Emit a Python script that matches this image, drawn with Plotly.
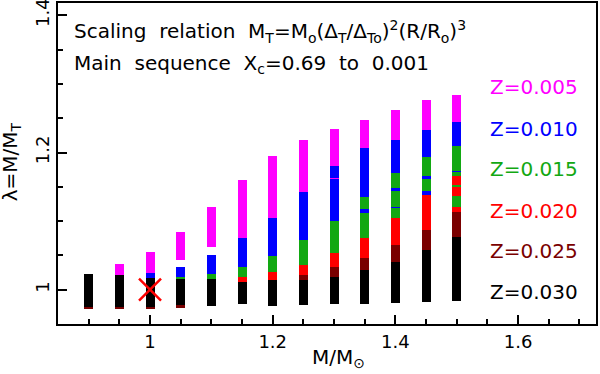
import plotly.graph_objects as go

# metallicities, colours and label positions
z_names = ['Z=0.005', 'Z=0.010', 'Z=0.015', 'Z=0.020', 'Z=0.025', 'Z=0.030']
z_colors = ['#ff00ff', '#0000ff', '#12a812', '#ff0000', '#7a0000', '#000000']
label_y = [1.295, 1.235, 1.176, 1.115, 1.056, 0.997]

# visible lambda ranges (mass, lambda_low, lambda_high)
z005 = [(0.95, 1.0215, 1.0375), (1.00, 1.0248, 1.0555), (1.05, 1.0434, 1.0838),
        (1.10, 1.0619, 1.1203), (1.15, 1.075, 1.1601), (1.20, 1.1042, 1.1956),
        (1.25, 1.143, 1.2185), (1.30, 1.1806, 1.2346), (1.30, 1.1612, 1.1628),
        (1.35, 1.2064, 1.2477), (1.40, 1.2185, 1.2623), (1.45, 1.2331, 1.2759),
        (1.50, 1.2444, 1.2842)]
z010 = [(1.00, 1.0166, 1.0248), (1.05, 1.018, 1.0336), (1.10, 1.0229, 1.0507),
        (1.15, 1.0336, 1.075), (1.20, 1.0492, 1.1042), (1.25, 1.0726, 1.143),
        (1.30, 1.1628, 1.1806), (1.30, 1.1007, 1.1612), (1.35, 1.1358, 1.2064),
        (1.35, 1.1115, 1.1178), (1.40, 1.17, 1.2185), (1.40, 1.144, 1.148),
        (1.40, 1.119, 1.121), (1.45, 1.1942, 1.2331), (1.45, 1.1616, 1.1664),
        (1.45, 1.138, 1.144), (1.50, 1.2088, 1.2444), (1.50, 1.1716, 1.1733)]
z015 = [(1.05, 1.0162, 1.018), (1.10, 1.0152, 1.0229), (1.15, 1.018, 1.0336),
        (1.20, 1.0254, 1.0492), (1.25, 1.036, 1.0726), (1.30, 1.0531, 1.1007),
        (1.35, 1.1178, 1.1358), (1.35, 1.0759, 1.1115), (1.40, 1.148, 1.17),
        (1.40, 1.121, 1.144), (1.40, 1.105, 1.119), (1.45, 1.1664, 1.1942),
        (1.45, 1.144, 1.1616), (1.50, 1.1733, 1.2088), (1.50, 1.1664, 1.1716),
        (1.50, 1.1504, 1.1528), (1.50, 1.1212, 1.1368)]
z020 = [(1.15, 1.0117, 1.018), (1.20, 1.0142, 1.0254), (1.25, 1.0215, 1.036),
        (1.30, 1.0327, 1.0531), (1.35, 1.0467, 1.0759), (1.40, 1.065, 1.105),
        (1.45, 1.0872, 1.138), (1.50, 1.1528, 1.1664), (1.50, 1.1368, 1.1504),
        (1.50, 1.1139, 1.1212)]
z025 = [(0.90, 0.9725, 0.975), (0.95, 0.972, 0.975), (1.00, 0.973, 0.975),
        (1.05, 0.9745, 0.977), (1.25, 1.0142, 1.0215), (1.30, 1.019, 1.0327),
        (1.35, 1.0288, 1.0467), (1.40, 1.041, 1.065), (1.45, 1.058, 1.0872),
        (1.50, 1.0774, 1.1139)]
z030 = [(0.90, 0.975, 1.0229), (0.95, 0.975, 1.0215), (1.00, 0.975, 1.0166),
        (1.05, 0.977, 1.0162), (1.10, 0.976, 1.0152), (1.15, 0.9787, 1.0117),
        (1.20, 0.976, 1.0142), (1.25, 0.977, 1.0142), (1.30, 0.9787, 1.019),
        (1.35, 0.979, 1.0288), (1.40, 0.980, 1.041), (1.45, 0.9816, 1.058),
        (1.50, 0.9835, 1.0774)]
z_ranges = [z005, z010, z015, z020, z025, z030]

sun_mass = [1.0]
sun_lambda = [1.0]

FONT = 'DejaVu Sans'
XR = [0.85, 1.727]
YR = [0.95, 1.418]
SP = ' \u00a0'  # the original font has wide word spaces

fig = go.Figure()
for name, col, segs in zip(z_names, z_colors, z_ranges):
    fig.add_trace(go.Bar(
        x=[s[0] for s in segs],
        base=[s[1] for s in segs],
        y=[s[2] - s[1] for s in segs],
        width=0.0147,
        marker=dict(color=col, line=dict(width=0)),
        name=name, showlegend=False))

fig.add_trace(go.Scatter(
    x=sun_mass, y=sun_lambda, mode='markers', showlegend=False,
    marker=dict(symbol='x-thin', size=22, line=dict(width=2.5, color='#ff0000'))))

for name, col, yy in zip(z_names, z_colors, label_y):
    fig.add_annotation(x=1.701, y=yy, text=name, showarrow=False,
                       xanchor='right', yanchor='middle',
                       font=dict(family=FONT, size=20, color=col))

fig.add_annotation(x=0.873, y=1.376, xanchor='left', yanchor='middle', showarrow=False,
                   text='Scaling' + SP + 'relation' + SP +
                        'M<sub>T</sub>=M<sub>o</sub>(Δ<sub>T</sub>/Δ<sub>To</sub>)'
                        '<sup>2</sup>(R/R<sub>o</sub>)<sup>3</sup>',
                   font=dict(family=FONT, size=20, color='black'))
fig.add_annotation(x=0.873, y=1.329, xanchor='left', yanchor='middle', showarrow=False,
                   text=SP.join(['Main', 'sequence', 'X<sub>c</sub>=0.69', 'to', '0.001']),
                   font=dict(family=FONT, size=20, color='black'))

# axis titles placed by hand
fig.add_annotation(x=0.522, xref='paper', y=-0.105, yref='paper',
                   xanchor='center', yanchor='middle',
                   text='M/M<sub>⊙</sub>', showarrow=False,
                   font=dict(family=FONT, size=20, color='black'))
fig.add_annotation(x=-0.087, xref='paper', y=1.186, textangle=-90,
                   xanchor='center', yanchor='middle',
                   text='λ=M/M<sub>T</sub>', showarrow=False,
                   font=dict(family=FONT, size=20, color='black'))

axis_common = dict(showgrid=False, zeroline=False, showline=True, linecolor='black',
                   linewidth=2, mirror=True, ticks='inside', ticklen=9,
                   tickwidth=1.5, tickcolor='black', automargin=False,
                   ticklabeloverflow='allow',
                   tickfont=dict(family=FONT, size=18, color='black'))
minor_ticks = dict(dtick=0.05, tick0=0, ticks='inside', ticklen=5, tickwidth=1.5,
                   tickcolor='black', showgrid=False)
# top / right copies for the tick marks only
mirror_axis = dict(showgrid=False, zeroline=False, showline=False, showticklabels=False,
                   ticks='inside', ticklen=9, tickwidth=1.5, tickcolor='black',
                   automargin=False, dtick=0.2, tick0=0, minor=minor_ticks)

fig.update_layout(
    width=600, height=374, barmode='overlay', bargap=0,
    margin=dict(l=58, r=4, t=3, b=50),
    plot_bgcolor='white', paper_bgcolor='white',
    font=dict(family=FONT, size=18, color='black'),
    xaxis=dict(range=XR, dtick=0.2, tick0=0, minor=minor_ticks, **axis_common),
    yaxis=dict(range=YR, dtick=0.2, tick0=0, tickangle=-90, minor=minor_ticks, **axis_common),
    xaxis2=dict(range=XR, overlaying='x', side='top', **mirror_axis),
    yaxis2=dict(range=YR, overlaying='y', side='right', **mirror_axis),
)

fig.write_html('out.html', config={'displayModeBar': False},
               post_script="document.body.style.margin='0';")
